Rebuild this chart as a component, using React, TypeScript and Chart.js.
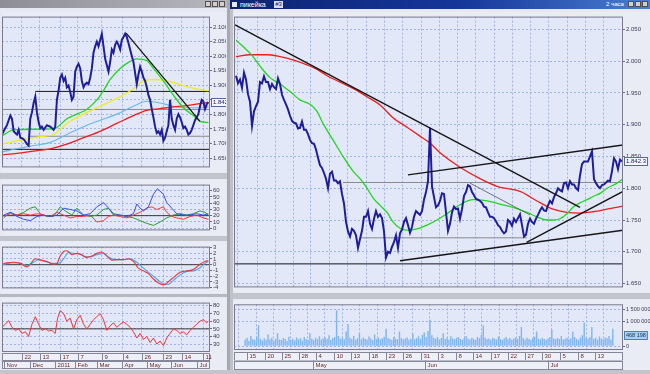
import React, { useEffect, useRef } from 'react';
import { Chart, registerables } from 'chart.js';
Chart.register(...registerables);

type Pair = [number, number];

// ================= LEFT WINDOW (daily) =================
const leftDayTicks = [12, 22.6, 35, 45.6, 60, 72.6, 84, 97, 108, 121];
const leftDayLabels = ['22', '13', '17', '7', '9', '4', '26', '23', '14', '11'];
const leftMonthTicks = [1, 17, 32, 44, 57, 72, 87, 101.4, 117];
const leftMonthLabels = ['Nov', 'Dec', '2011', 'Feb', 'Mar', 'Apr', 'May', 'Jun', 'Jul'];

const leftPriceTicks = [1.65, 1.7, 1.75, 1.8, 1.85, 1.9, 1.95, 2.0, 2.05, 2.1];
const leftPriceTickLabels = ['1.650', '1.700', '1.750', '1.800', '1.850', '1.900', '1.950', '2.000', '2.050', '2.100'];

const leftClose = [
  1.731, 1.742, 1.753, 1.763, 1.780, 1.796, 1.785, 1.742, 1.736, 1.731,
  1.747, 1.720, 1.718, 1.715, 1.707, 1.698, 1.693, 1.785, 1.807, 1.839,
  1.861, 1.807, 1.774, 1.753, 1.758, 1.747, 1.755, 1.763, 1.760, 1.758,
  1.753, 1.747, 1.758, 1.850, 1.882, 1.926, 1.937, 1.915, 1.926, 1.893,
  1.899, 1.877, 1.850, 1.861, 1.947, 1.964, 1.974, 1.958, 1.915, 1.893,
  1.904, 1.909, 1.904, 1.926, 1.958, 2.012, 2.034, 2.050, 2.034, 2.056,
  2.077, 2.034, 1.991, 1.969, 1.947, 1.980, 2.023, 2.012, 2.039, 2.050,
  2.039, 2.023, 2.056, 2.066, 2.077, 2.066, 2.045, 2.023, 2.001, 1.980,
  1.942, 1.904, 1.937, 1.964, 1.947, 1.926, 1.915, 1.893, 1.866, 1.850,
  1.818, 1.790, 1.758, 1.736, 1.742, 1.731, 1.747, 1.709, 1.720, 1.742,
  1.763, 1.850, 1.785, 1.763, 1.747, 1.785, 1.801, 1.790, 1.774, 1.753,
  1.758, 1.747, 1.731, 1.736, 1.747, 1.763, 1.780, 1.790, 1.801, 1.828,
  1.850, 1.845, 1.818, 1.834, 1.842,
];

const leftMaGreen: Pair[] = [
  [0, 1.726], [7, 1.747], [19, 1.749], [31, 1.750], [39, 1.785], [45, 1.801], [51, 1.818],
  [57, 1.850], [61, 1.882], [65, 1.920], [71, 1.958], [77, 1.982], [81, 1.991], [87, 1.985],
  [91, 1.958], [97, 1.915], [103, 1.866], [109, 1.823], [115, 1.796], [119, 1.776], [124, 1.772],
];
const leftMaYellow: Pair[] = [
  [0, 1.698], [9, 1.709], [19, 1.720], [25, 1.725], [31, 1.731], [39, 1.769], [49, 1.801],
  [59, 1.828], [69, 1.855], [79, 1.888], [85, 1.915], [91, 1.920], [99, 1.915], [109, 1.899],
  [119, 1.885], [124, 1.882],
];
const leftMaBlue: Pair[] = [
  [0, 1.671], [9, 1.682], [19, 1.693], [29, 1.704], [39, 1.731], [49, 1.758], [59, 1.780],
  [69, 1.801], [79, 1.828], [87, 1.845], [95, 1.839], [103, 1.828], [111, 1.823], [119, 1.823],
  [124, 1.826],
];
const leftMaRed: Pair[] = [
  [0, 1.661], [9, 1.666], [19, 1.674], [29, 1.682], [39, 1.698], [49, 1.720], [59, 1.742],
  [69, 1.769], [79, 1.796], [87, 1.814], [95, 1.820], [103, 1.826], [111, 1.830], [119, 1.837],
  [124, 1.841],
];
const leftTrend: Pair[] = [[74.6, 2.079], [119, 1.776]];
const leftLevelPrice = [1.879, 1.817, 1.725, 1.680];
const leftLevelFrom = [20, 0, 16, 0];
const leftLevelTo = [125, 125, 125, 125];

// ADX / DMI
const adxTicks = [0, 10, 20, 30, 40, 50, 60];
const adxTickLabels = ['0', '10', '20', '30', '40', '50', '60'];
const adxBlue: Pair[] = [
  [1, 20.9], [5, 25.3], [9, 18.7], [13, 14.2], [17, 12.0], [21, 18.7], [25, 20.9], [29, 18.7],
  [33, 20.9], [37, 32.0], [41, 29.8], [45, 27.6], [49, 20.9], [53, 23.1], [57, 34.2], [61, 40.9],
  [64, 32.0], [67, 23.1], [71, 20.9], [75, 18.7], [79, 23.1], [81, 38.7], [83, 32.0], [85, 27.6],
  [88, 34.2], [91, 54.2], [93.4, 63.1], [97, 54.2], [99, 40.9], [102, 32.0], [105, 23.1],
  [109, 20.9], [113, 20.9], [117, 23.1], [121, 20.9], [124, 23.1],
];
const adxRed: Pair[] = [
  [1, 18.7], [5, 23.1], [9, 20.9], [13, 23.1], [17, 20.9], [21, 23.1], [25, 20.9], [29, 18.7],
  [33, 25.3], [37, 20.9], [41, 16.4], [45, 18.7], [49, 18.7], [53, 20.9], [57, 9.8], [61, 12.0],
  [64, 18.7], [67, 20.9], [71, 18.7], [75, 16.4], [79, 20.9], [83, 25.3], [87, 32.0], [90, 34.2],
  [93, 29.8], [97, 34.2], [99, 25.3], [102, 18.7], [105, 16.4], [109, 14.2], [113, 18.7],
  [117, 20.9], [121, 16.4], [124, 14.2],
];
const adxGreen: Pair[] = [
  [1, 16.4], [5, 25.3], [9, 20.9], [13, 25.3], [17, 32.0], [20, 34.2], [23, 23.1], [27, 18.7],
  [31, 18.7], [35, 34.2], [38, 27.6], [42, 20.9], [45, 32.0], [49, 20.9], [53, 18.7], [57, 20.9],
  [61, 29.8], [64, 32.0], [67, 20.9], [71, 20.9], [75, 18.7], [79, 16.4], [83, 12.0], [87, 7.6],
  [91, 4.4], [95, 9.8], [99, 16.4], [103, 20.9], [107, 23.1], [111, 20.9], [115, 23.1],
  [119, 27.6], [122, 25.3], [124, 20.9],
];
const adxLevel = 20;

// MACD
const macdTicks = [-4, -3, -2, -1, 0, 1, 2, 3];
const macdTickLabels = ['-4', '-3', '-2', '-1', '0', '1', '2', '3'];
const macdRed: Pair[] = [
  [0, 0.09], [3, 0.33], [7, 0.42], [11, 0.23], [15, -0.38], [17, 0.09], [20, 1.03], [23, 0.80],
  [27, 0.56], [31, 0.09], [33, 0.23], [35, 1.50], [37, 2.30], [39, 2.44], [42, 1.74], [45, 1.97],
  [48, 1.74], [51, 1.27], [54, 1.50], [57, 1.97], [60, 2.21], [63, 1.50], [66, 0.80], [69, 0.89],
  [73, 0.89], [76, 1.03], [79, 0.56], [82, -0.61], [85, -1.08], [88, -1.55], [91, -2.49],
  [94, -3.19], [97, -3.52], [100, -2.96], [103, -2.25], [107, -1.31], [111, -1.08], [115, -0.85],
  [119, 0.09], [122, 0.56], [124, 0.70],
];
const macdBlue: Pair[] = [
  [0, -0.05], [3, 0.19], [7, 0.33], [11, 0.23], [15, -0.14], [19, 0.42], [22, 0.89], [26, 0.56],
  [30, 0.23], [34, 0.23], [37, 1.03], [40, 2.11], [43, 1.97], [46, 1.92], [50, 1.36], [53, 1.36],
  [57, 1.74], [61, 1.97], [64, 1.36], [68, 0.89], [73, 0.89], [77, 1.03], [81, 0.42], [85, -0.61],
  [89, -1.55], [93, -2.49], [97, -3.33], [100, -3.43], [103, -2.72], [107, -1.78], [111, -1.17],
  [115, -1.08], [119, -0.52], [122, 0.23], [124, 0.56],
];
const macdLevel = 0;

// RSI
const rsiTicks = [30, 40, 50, 60, 70, 80];
const rsiTickLabels = ['30', '40', '50', '60', '70', '80'];
const rsiRed: Pair[] = [
  [0, 52.0], [2, 55.9], [4, 60.6], [6, 52.0], [8, 48.0], [10, 50.0], [12, 44.1], [14, 46.1],
  [16, 40.2], [18, 55.9], [20, 65.7], [22, 55.9], [24, 48.0], [26, 50.0], [28, 47.3], [30, 48.0],
  [32, 44.1], [33.4, 63.7], [35, 73.5], [37, 69.6], [39, 59.8], [41, 63.7], [43, 50.0], [45, 61.8],
  [47, 67.6], [49, 55.9], [51, 50.0], [53, 55.9], [55, 61.8], [57, 65.7], [59, 69.6], [61, 61.8],
  [63, 48.0], [65, 53.9], [67, 57.8], [69, 52.0], [71, 55.9], [73, 59.0], [75, 55.9], [77, 52.0],
  [79, 46.1], [81, 38.2], [83, 44.1], [85, 36.3], [87, 40.2], [89, 32.4], [91, 38.2], [93, 30.4],
  [95, 34.3], [97, 28.4], [99, 38.2], [101, 44.1], [103, 50.0], [105, 48.0], [107, 44.1],
  [109, 46.1], [111, 42.2], [113, 48.0], [115, 52.0], [117, 55.9], [119, 59.8], [121, 61.8],
  [123, 57.8], [124, 59.8],
];
const rsiLevel = 50;

// ================= RIGHT WINDOW (2-hour) =================
const rightDayTicks = [1, 10.5, 19.5, 28.5, 37, 46.5, 55.5, 65, 74, 83, 92.5, 101.5, 110.5, 119.5, 129, 138, 147, 156, 165.5, 174.5, 183.5];
const rightDayLabels = ['15', '20', '25', '28', '4', '10', '13', '18', '23', '26', '31', '3', '8', '14', '17', '22', '27', '30', '5', '8', '13'];
const rightMonthTicks = [35.5, 94.5, 159];
const rightMonthLabels = ['May', 'Jun', 'Jul'];

const rightPriceTicks = [1.65, 1.7, 1.75, 1.8, 1.85, 1.9, 1.95, 2.0, 2.05];
const rightPriceTickLabels = ['1.650', '1.700', '1.750', '1.800', '1.850', '1.900', '1.950', '2.000', '2.050'];

const rightClose = [
  1.977, 1.965, 1.971, 1.958, 1.982, 1.971, 1.948, 1.936, 1.898, 1.921,
  1.929, 1.936, 1.967, 1.965, 1.976, 1.967, 1.967, 1.956, 1.964, 1.959,
  1.956, 1.973, 1.964, 1.947, 1.939, 1.932, 1.924, 1.914, 1.906, 1.903,
  1.902, 1.894, 1.895, 1.905, 1.892, 1.892, 1.885, 1.876, 1.871, 1.870,
  1.861, 1.848, 1.836, 1.832, 1.824, 1.815, 1.800, 1.823, 1.826, 1.812,
  1.812, 1.808, 1.811, 1.791, 1.776, 1.747, 1.732, 1.724, 1.736, 1.733,
  1.726, 1.706, 1.720, 1.733, 1.755, 1.755, 1.764, 1.744, 1.736, 1.752,
  1.764, 1.755, 1.759, 1.753, 1.732, 1.691, 1.700, 1.698, 1.708, 1.715,
  1.726, 1.706, 1.729, 1.735, 1.747, 1.753, 1.742, 1.730, 1.739, 1.755,
  1.764, 1.761, 1.758, 1.764, 1.782, 1.794, 1.811, 1.895, 1.803, 1.786,
  1.770, 1.773, 1.780, 1.792, 1.791, 1.762, 1.733, 1.744, 1.762, 1.771,
  1.767, 1.768, 1.752, 1.767, 1.788, 1.794, 1.805, 1.803, 1.794, 1.789,
  1.783, 1.782, 1.780, 1.777, 1.771, 1.770, 1.762, 1.755, 1.755, 1.753,
  1.748, 1.742, 1.739, 1.733, 1.729, 1.732, 1.750, 1.747, 1.741, 1.752,
  1.747, 1.753, 1.759, 1.742, 1.724, 1.727, 1.744, 1.752, 1.747, 1.744,
  1.752, 1.758, 1.765, 1.770, 1.765, 1.764, 1.773, 1.780, 1.776, 1.786,
  1.792, 1.800, 1.797, 1.795, 1.808, 1.809, 1.800, 1.811, 1.806, 1.806,
  1.800, 1.797, 1.820, 1.838, 1.842, 1.842, 1.842, 1.850, 1.858, 1.814,
  1.808, 1.803, 1.800, 1.805, 1.806, 1.809, 1.812, 1.811, 1.827, 1.847,
  1.842, 1.830, 1.845, 1.842,
];

const rightMaGreen: Pair[] = [
  [0, 2.033], [3.5, 2.023], [8, 2.009], [12, 1.992], [17, 1.974], [22, 1.964], [27, 1.952],
  [32, 1.939], [37, 1.932], [40.5, 1.921], [43.5, 1.902], [48.5, 1.876], [53.5, 1.850],
  [58.5, 1.827], [62, 1.815], [65.5, 1.800], [68.5, 1.785], [72, 1.773], [75.5, 1.762],
  [78.5, 1.747], [82, 1.737], [85.5, 1.734], [90.5, 1.736], [95.5, 1.742], [100.5, 1.750],
  [105.5, 1.760], [112, 1.774], [118.5, 1.782], [125.5, 1.780], [132, 1.775], [138.5, 1.770],
  [145.5, 1.762], [150.5, 1.755], [155.5, 1.750], [158.5, 1.750], [162, 1.752], [165.5, 1.760],
  [168.5, 1.770], [172, 1.777], [175.5, 1.782], [178.5, 1.787], [182, 1.792], [185.5, 1.800],
  [190.5, 1.808], [193.5, 1.815],
];
const rightMaRed: Pair[] = [
  [0, 2.007], [7, 2.010], [15.5, 2.010], [22, 2.007], [28.5, 2.002], [35.5, 1.994], [40.5, 1.987],
  [45.5, 1.977], [52, 1.967], [58.5, 1.957], [65.5, 1.944], [72, 1.931], [78.5, 1.911],
  [85.5, 1.896], [92, 1.882], [97, 1.871], [102, 1.856], [112, 1.833], [122, 1.815],
  [130.5, 1.803], [142, 1.795], [150.5, 1.780], [158.5, 1.767], [165.5, 1.762], [172, 1.761],
  [178.5, 1.763], [185.5, 1.767], [193.5, 1.772],
];
// trend lines: [startIndex, startPrice, endIndex, endPrice]
const rightTrends: [number, number, number, number][] = [
  [-0.5, 2.057, 172, 1.770],
  [86, 1.821, 193.5, 1.868],
  [82, 1.686, 193.5, 1.734],
  [145.3, 1.715, 193.5, 1.795],
];
const rightThinTrend: [number, number, number, number] = [117, 1.808, 147, 1.758];
const rightLevelPrice = [1.809, 1.722, 1.681];
const rightLevelFrom = [53.5, 62, -1];
const rightLevelTo = [193.5, 145.5, 193.5];

// volume, thousands
const volTicks = [0, 1000, 1500];
const volTickLabels = ['0', '1 000 000', '1 500 000'];
const volume = [
  280, 350, 220, 420, 300, 260, 380, 850, 310, 240,
  330, 270, 480, 290, 350, 230, 310, 530, 280, 260,
  340, 300, 220, 390, 270, 310, 250, 360, 290, 330,
  240, 380, 300, 270, 530, 320, 260, 350, 290, 410,
  280, 330, 360, 300, 450, 260, 340, 380, 1460, 420,
  310, 370, 290, 600, 900, 350, 300, 420, 270, 330,
  530, 290, 360, 310, 280, 400, 320, 260, 480, 300,
  350, 280, 330, 390, 710, 340, 300, 260, 380, 310,
  290, 600, 340, 280, 320, 360, 270, 310, 530, 290,
  330, 410, 300, 460, 560, 380, 620, 1080, 450, 350,
  310, 380, 280, 340, 530, 300, 360, 270, 410, 320,
  290, 350, 380, 300, 260, 340, 420, 310, 280, 350,
  300, 270, 380, 330, 460, 840, 360, 290, 320, 270,
  350, 310, 280, 400, 300, 260, 330, 380, 290, 340,
  270, 320, 360, 300, 420, 780, 330, 280, 350, 300,
  260, 340, 390, 600, 310, 280, 350, 300, 270, 330,
  380, 670, 320, 290, 340, 300, 420, 280, 310, 350,
  290, 330, 600, 380, 300, 270, 360, 450, 960, 340,
  310, 380, 780, 300, 350, 270, 400, 320, 290, 360,
  330, 420, 280, 710,
];
const lastPrice = 1.8423;
const lastPriceText = '1.842.3';
const lastVolume = 468.198;
const lastVolumeText = '468 198';

// ================= styling =================
const FONT_FAMILY = '"Liberation Sans", Arial, sans-serif';
const GRID = '#a2b2e6';
const PLOT_BG = '#e3e8f8';
const AXIS_BG = '#e9ebf5';
const FRAME = '#7a7a8c';
const BLACK = '#161616';
const GRAY_LINE = '#8a8a8e';

const pts = (a: Pair[]) => a.map(([x, y]) => ({ x, y }));
const seq = (a: number[]) => a.map((y, i) => ({ x: i, y }));

const ln = (data: any[], color: string, width = 1, smooth = false) => ({
  type: 'line',
  data,
  borderColor: color,
  backgroundColor: color,
  borderWidth: width,
  pointRadius: 0,
  fill: false,
  tension: 0,
  cubicInterpolationMode: smooth ? 'monotone' : 'default',
});

const panelPlugin = {
  id: 'panel',
  beforeDraw(chart: any) {
    const { ctx, width, height, chartArea: a } = chart;
    ctx.save();
    ctx.fillStyle = AXIS_BG;
    ctx.fillRect(0, 0, width, height);
    ctx.fillStyle = PLOT_BG;
    ctx.fillRect(a.left, a.top, a.right - a.left, a.bottom - a.top);
    ctx.restore();
  },
  afterDraw(chart: any) {
    const { ctx, chartArea: a } = chart;
    ctx.save();
    ctx.strokeStyle = FRAME;
    ctx.lineWidth = 1;
    ctx.strokeRect(a.left + 0.5, a.top + 0.5, a.right - a.left - 1, a.bottom - a.top - 1);
    ctx.restore();
  },
};

const lastBoxPlugin = {
  id: 'lastBox',
  afterDraw(chart: any, _args: any, opts: any) {
    if (!opts || opts.value === undefined) return;
    const { ctx, chartArea: a } = chart;
    const y = Math.round(chart.scales.y.getPixelForValue(opts.value));
    ctx.save();
    ctx.font = `${opts.size}px ${FONT_FAMILY}`;
    const w = ctx.measureText(opts.text).width + 4;
    const x = a.right + 1;
    ctx.fillStyle = opts.bg;
    ctx.fillRect(x, y - 4, w, 9);
    ctx.strokeStyle = opts.border;
    ctx.lineWidth = 1;
    ctx.strokeRect(x + 0.5, y - 3.5, w - 1, 8);
    ctx.fillStyle = opts.color;
    ctx.textBaseline = 'middle';
    ctx.fillText(opts.text, x + 2, y + 0.5);
    ctx.restore();
  },
};

const dateBandPlugin = {
  id: 'dateBand',
  afterDraw(chart: any, _args: any, opts: any) {
    if (!opts || !opts.rows) return;
    const { ctx, chartArea: a } = chart;
    const xs = chart.scales.x;
    let y0 = a.bottom + opts.gap;
    ctx.save();
    ctx.font = `6px ${FONT_FAMILY}`;
    ctx.textBaseline = 'middle';
    for (const row of opts.rows) {
      const h = opts.rowH;
      ctx.fillStyle = '#eef0f8';
      ctx.fillRect(a.left, y0, a.right - a.left, h);
      ctx.strokeStyle = '#86869a';
      ctx.lineWidth = 1;
      ctx.strokeRect(a.left + 0.5, Math.round(y0) + 0.5, a.right - a.left - 1, Math.round(h) - 1);
      row.ticks.forEach((t: number, i: number) => {
        const px = Math.round(xs.getPixelForValue(t)) + 0.5;
        ctx.strokeStyle = '#86869a';
        ctx.beginPath();
        ctx.moveTo(px, y0);
        ctx.lineTo(px, y0 + h);
        ctx.stroke();
        ctx.fillStyle = '#6e2a2a';
        ctx.fillText(row.labels[i], px + 2, y0 + h / 2 + 0.5);
      });
      y0 += h;
    }
    ctx.restore();
  },
};

function yAxis(min: number, max: number, ticks: number[], labels: string[], width: number, size = 6) {
  return {
    type: 'linear',
    position: 'right',
    min,
    max,
    afterBuildTicks: (s: any) => {
      s.ticks = ticks.map((v) => ({ value: v }));
    },
    afterFit: (s: any) => {
      s.width = width;
    },
    ticks: {
      autoSkip: false,
      font: { family: FONT_FAMILY, size },
      color: '#3c3c56',
      padding: 1,
      callback: (_v: any, i: number) => labels[i],
    },
    grid: { color: GRID, tickColor: '#6a6a7a', tickLength: 2, drawTicks: true },
    border: { display: false, dash: [2, 2] },
  };
}

function xAxis(min: number, max: number, gridAt: number[]) {
  return {
    type: 'linear',
    min,
    max,
    afterBuildTicks: (s: any) => {
      s.ticks = gridAt.map((v) => ({ value: v }));
    },
    afterFit: (s: any) => {
      s.height = 0;
    },
    ticks: { display: false },
    grid: { color: GRID, drawTicks: false },
    border: { display: false, dash: [2, 2] },
  };
}

function baseOptions(x: any, y: any, extra: any, padBottom = 0) {
  return {
    responsive: false,
    animation: false,
    events: [],
    layout: { padding: { left: 0, right: 0, top: 0, bottom: padBottom } },
    scales: { x, y },
    plugins: { legend: { display: false }, tooltip: { enabled: false }, title: { display: false }, ...extra },
  };
}

const PLUGINS = [panelPlugin, lastBoxPlugin, dateBandPlugin];

const levelSets = (price: number[], from: number[], to: number[], colors: string[]) =>
  price.map((p, i) => ln([{ x: from[i], y: p }, { x: to[i], y: p }], colors[i], 1));

// ----- configs -----
const makeLeftPrice = () => ({
  type: 'line',
  data: {
    datasets: [
      ln(pts(leftTrend), BLACK, 1.3),
      ln(seq(leftClose), '#1e1e9c', 2),
      ln(pts(leftMaGreen), '#1ed81e', 1.3, true),
      ln(pts(leftMaRed), '#ee1c1c', 1.3, true),
      ln(pts(leftMaBlue), '#64b8f2', 1.1, true),
      ln(pts(leftMaYellow), '#f0ec1c', 1.3, true),
      ...levelSets(leftLevelPrice, leftLevelFrom, leftLevelTo, [BLACK, GRAY_LINE, GRAY_LINE, BLACK]),
    ],
  },
  options: baseOptions(
    xAxis(0, 125, leftDayTicks),
    yAxis(1.618, 2.136, leftPriceTicks, leftPriceTickLabels, 16),
    { lastBox: { value: lastPrice, text: lastPriceText, size: 6, bg: '#f4f6ff', border: '#5a64a0', color: '#20205e' } },
  ),
  plugins: PLUGINS,
});

const makeAdx = () => ({
  type: 'line',
  data: {
    datasets: [
      ln(pts(adxBlue), '#3b4cf6', 1),
      ln(pts(adxRed), '#f23a3a', 1),
      ln(pts(adxGreen), '#2f9a2f', 1),
      ln([{ x: 0, y: adxLevel }, { x: 125, y: adxLevel }], '#3a3a3a', 1),
    ],
  },
  options: baseOptions(xAxis(0, 125, leftDayTicks), yAxis(-3.6, 69.7, adxTicks, adxTickLabels, 16)),
  plugins: PLUGINS,
});

const makeMacd = () => ({
  type: 'line',
  data: {
    datasets: [
      ln(pts(macdRed), '#f23434', 1.1, true),
      ln(pts(macdBlue), '#46a6f4', 1.1, true),
      ln([{ x: 0, y: macdLevel }, { x: 125, y: macdLevel }], '#3a3a3a', 1),
    ],
  },
  options: baseOptions(xAxis(0, 125, leftDayTicks), yAxis(-4.13, 3.15, macdTicks, macdTickLabels, 16)),
  plugins: PLUGINS,
});

const makeRsi = () => ({
  type: 'line',
  data: {
    datasets: [
      ln(pts(rsiRed), '#f23434', 1),
      ln([{ x: 0, y: rsiLevel }, { x: 125, y: rsiLevel }], '#3a3a3a', 1),
    ],
  },
  options: baseOptions(
    xAxis(0, 125, leftDayTicks),
    yAxis(20.2, 83.8, rsiTicks, rsiTickLabels, 16),
    {
      dateBand: {
        gap: 1,
        rowH: 8,
        rows: [
          { ticks: leftDayTicks, labels: leftDayLabels },
          { ticks: leftMonthTicks, labels: leftMonthLabels },
        ],
      },
    },
    18,
  ),
  plugins: PLUGINS,
});

const makeRightPrice = () => ({
  type: 'line',
  data: {
    datasets: [
      ...rightTrends.map(([x0, p0, x1, p1]) => ln([{ x: x0, y: p0 }, { x: x1, y: p1 }], BLACK, 1.4)),
      ln([{ x: rightThinTrend[0], y: rightThinTrend[1] }, { x: rightThinTrend[2], y: rightThinTrend[3] }], '#505058', 0.8),
      ln(seq(rightClose), '#1e1e9c', 2),
      ln(pts(rightMaGreen), '#1ed81e', 1.3, true),
      ln(pts(rightMaRed), '#ee1c1c', 1.3, true),
      ...levelSets(rightLevelPrice, rightLevelFrom, rightLevelTo, [GRAY_LINE, GRAY_LINE, BLACK]),
    ],
  },
  options: baseOptions(
    xAxis(-1, 193.5, rightDayTicks),
    yAxis(1.644, 2.07, rightPriceTicks, rightPriceTickLabels, 27),
    { lastBox: { value: lastPrice, text: lastPriceText, size: 6, bg: '#f4f6ff', border: '#5a64a0', color: '#20205e' } },
  ),
  plugins: PLUGINS,
});

const makeVolume = () => ({
  type: 'bar',
  data: {
    datasets: [
      {
        type: 'bar',
        data: seq(volume),
        backgroundColor: '#7fb6f2',
        borderWidth: 0,
        barPercentage: 0.75,
        categoryPercentage: 1,
      },
    ],
  },
  options: baseOptions(
    xAxis(-1, 193.5, rightDayTicks),
    yAxis(-148, 1700, volTicks, volTickLabels, 27, 5.5),
    {
      lastBox: { value: lastVolume, text: lastVolumeText, size: 5.5, bg: '#a6d0f6', border: '#5a7ab0', color: '#1c2c5c' },
      dateBand: {
        gap: 2,
        rowH: 8.5,
        rows: [
          { ticks: rightDayTicks, labels: rightDayLabels },
          { ticks: rightMonthTicks, labels: rightMonthLabels },
        ],
      },
    },
    20,
  ),
  plugins: PLUGINS,
});

function Panel({ left, top, width, height, make }: { left: number; top: number; width: number; height: number; make: () => any }) {
  const ref = useRef<HTMLCanvasElement>(null);
  useEffect(() => {
    const chart = new Chart(ref.current as HTMLCanvasElement, make());
    return () => chart.destroy();
  }, [make]);
  return (
    <canvas
      ref={ref}
      width={width}
      height={height}
      style={{ position: 'absolute', left, top, width, height, display: 'block' }}
    />
  );
}

const box = (left: number, top: number, width: number, height: number, background: string, extra: any = {}) => (
  <div style={{ position: 'absolute', left, top, width, height, background, ...extra }} />
);

export default function App() {
  const btn = (left: number, top: number) =>
    box(left, top, 6, 6, '#d4d0c8', { border: '1px solid #505050', boxSizing: 'border-box' });
  return (
    <div
      style={{
        position: 'fixed',
        left: 0,
        top: 0,
        width: 650,
        height: 374,
        overflow: 'hidden',
        background: '#c9c9d1',
        fontFamily: FONT_FAMILY,
      }}
    >
      {/* left window */}
      {box(0, 0, 227, 8, 'linear-gradient(90deg,#8e8e96,#b6b6be)')}
      {btn(205, 1)}
      {btn(212, 1)}
      {btn(219, 1)}
      {box(0, 8, 227, 362, '#e6e8f3')}
      {box(0, 173, 227, 6, '#c4c4cc')}
      {box(0, 236, 227, 5, '#c4c4cc')}
      {box(0, 294, 227, 3, '#b8b8c0')}
      <Panel left={2} top={12} width={224} height={160} make={makeLeftPrice} />
      <Panel left={2} top={180} width={224} height={55} make={makeAdx} />
      <Panel left={2} top={242} width={224} height={51} make={makeMacd} />
      <Panel left={2} top={298} width={224} height={72} make={makeRsi} />

      {/* divider */}
      {box(227, 0, 3, 374, '#a8a8b0')}
      {box(230, 9, 3, 361, '#c0c0c8')}

      {/* right window */}
      <div
        style={{
          position: 'absolute',
          left: 230,
          top: 0,
          width: 420,
          height: 9,
          background: 'linear-gradient(90deg,#0c2472 0%,#16369a 55%,#4a7ed0 100%)',
          color: '#ffffff',
          fontSize: 7,
          lineHeight: '9px',
        }}
      >
        <span style={{ position: 'absolute', left: 2, top: 2, width: 5, height: 5, background: '#e8e8f0' }} />
        <span style={{ position: 'absolute', left: 10, top: 0 }}>пикейка</span>
        <span style={{ position: 'absolute', left: 44, top: 1, width: 9, height: 7, background: '#dcdcf0', color: '#10206a', fontSize: 6, lineHeight: '7px', textAlign: 'center' }}>#3</span>
        <span style={{ position: 'absolute', left: 376, top: 0, fontSize: 6 }}>2 часа</span>
      </div>
      {btn(628, 1)}
      {btn(635, 1)}
      {btn(642, 1)}
      {box(233, 9, 417, 361, '#e6e8f3')}
      {box(233, 293, 417, 6, '#c4c4cc')}
      <Panel left={234} top={12} width={416} height={280} make={makeRightPrice} />
      <Panel left={234} top={300} width={416} height={70} make={makeVolume} />

      {/* status bar */}
      {box(0, 370, 650, 4, '#c4c4cc')}
    </div>
  );
}
